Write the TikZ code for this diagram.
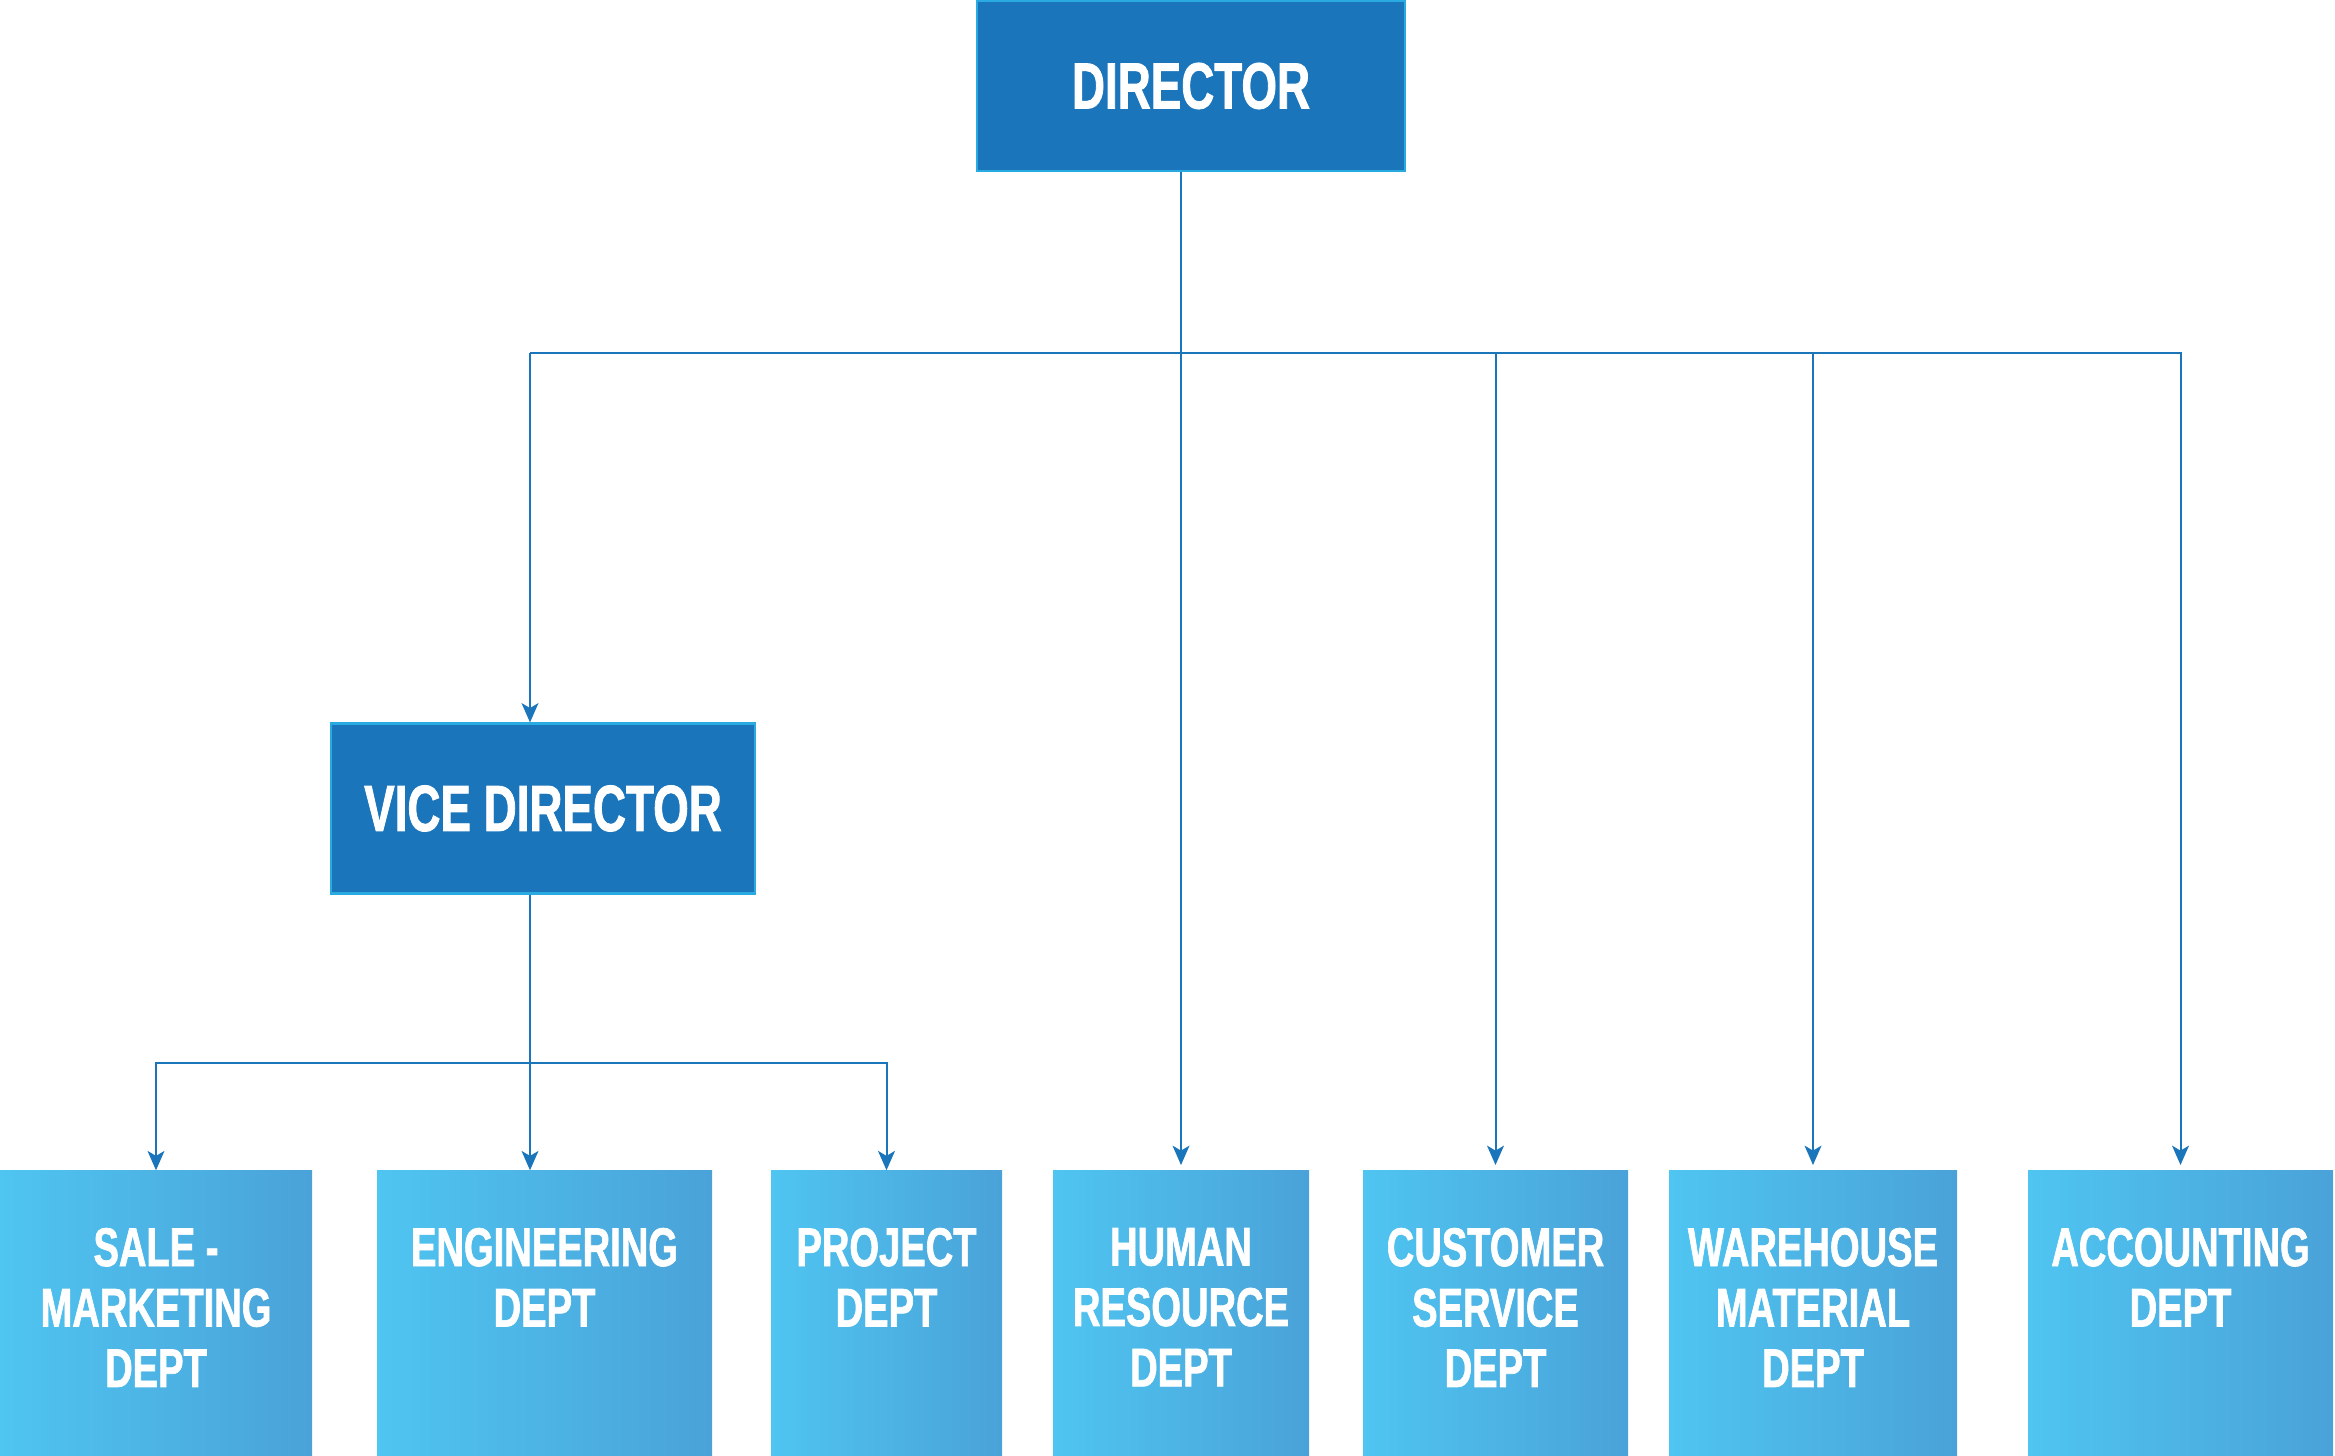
\documentclass[tikz,border=0pt]{standalone}
\usepackage{fontspec}
\newfontfamily\orgfont[FakeStretch=0.7,FakeBold=1.2]{Liberation Sans}
\usetikzlibrary{arrows.meta}
\definecolor{azul}{RGB}{27,117,187}
\definecolor{cian}{RGB}{41,171,226}
\definecolor{claro}{RGB}{79,197,241}
\definecolor{medio}{RGB}{74,162,216}
\tikzset{%
    hd/.style={rectangle, fill=azul, draw=cian, line width=0.6pt, minimum height=1.70cm, inner sep=0pt,
        text=white, font=\orgfont\bfseries\fontsize{18.6}{20}\selectfont},
    dp/.style={rectangle, left color=claro, right color=medio, minimum height=2.85cm, inner sep=0pt},
    tx/.style={anchor=north, inner sep=0pt, align=center, text=white,
        font=\orgfont\bfseries\fontsize{15.5}{17.2}\selectfont},
    ln/.style={draw=azul, line width=0.57pt},
    ar/.style={draw=azul, line width=0.57pt, -{Stealth[length=5.5pt,width=4.8pt,inset=1.4pt]}}
}
\begin{document}
\begin{tikzpicture}
    \useasboundingbox (0,0) rectangle (23.35,-14.56);
    \node[hd, minimum width=4.28cm] (director) at (11.91,-0.86) {DIRECTOR};
    \node[hd, minimum width=4.24cm] (vice) at (5.43,-8.085) {VICE DIRECTOR};
    % departamentos
    \node[dp, minimum width=3.12cm] (sale) at (1.56,-13.135) {};
    \node[dp, minimum width=3.35cm] (eng)  at (5.445,-13.135) {};
    \node[dp, minimum width=2.31cm] (proj) at (8.865,-13.135) {};
    \node[dp, minimum width=2.56cm] (hr)   at (11.81,-13.135) {};
    \node[dp, minimum width=2.65cm] (cust) at (14.955,-13.135) {};
    \node[dp, minimum width=2.88cm] (ware) at (18.13,-13.135) {};
    \node[dp, minimum width=3.05cm] (acc)  at (21.805,-13.135) {};
    \node[tx] (tsale) at ([yshift=-0.57cm]sale.north) {SALE -\\MARKETING\\DEPT};
    \node[tx] (teng)  at ([yshift=-0.57cm]eng.north)  {ENGINEERING\\DEPT};
    \node[tx] (tproj) at ([yshift=-0.57cm]proj.north) {PROJECT\\DEPT};
    \node[tx] (thr)   at ([yshift=-0.57cm]hr.north)   {HUMAN\\RESOURCE\\DEPT};
    \node[tx] (tcust) at ([yshift=-0.57cm]cust.north) {CUSTOMER\\SERVICE\\DEPT};
    \node[tx] (tware) at ([yshift=-0.57cm]ware.north) {WAREHOUSE\\MATERIAL\\DEPT};
    \node[tx] (tacc)  at ([yshift=-0.57cm]acc.north)  {ACCOUNTING\\DEPT};
    % conexiones
    \coordinate (bus) at (5.30,-3.53);
    \coordinate (sub) at (5.30,-10.63);
    \draw[ar, shorten >=1.5pt] (director.south -| hr.north) -- (hr.north);
    \draw[ar] (bus) -- (bus |- vice.north);
    \draw[ar, shorten >=1.5pt] (bus) -| (acc.north);
    \draw[ar, shorten >=1.5pt] (bus -| cust.north) -- (cust.north);
    \draw[ar, shorten >=1.5pt] (bus -| ware.north) -- (ware.north);
    \draw[ln] (vice.south -| sub) -- (sub);
    \draw[ar] (sub) -- (sub |- eng.north);
    \draw[ar] (sub) -| (sale.north);
    \draw[ar] (sub) -| (proj.north);
\end{tikzpicture}
\end{document}
